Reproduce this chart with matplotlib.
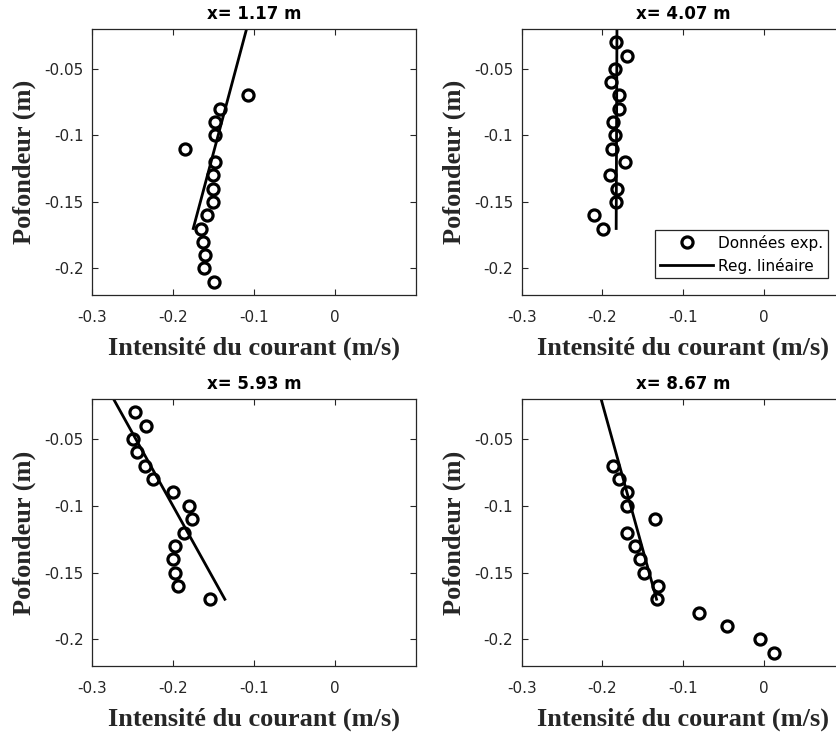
import matplotlib
matplotlib.use("Agg")
import matplotlib.pyplot as plt

# depths (m) of each profile
depth_a = [-0.07, -0.08, -0.09, -0.10, -0.11, -0.12, -0.13, -0.14, -0.15, -0.16, -0.17, -0.18, -0.19, -0.20, -0.21]
depth_b = [-0.03, -0.04, -0.05, -0.06, -0.07, -0.08, -0.09, -0.10, -0.11, -0.12, -0.13, -0.14, -0.15, -0.16, -0.17]

# measured current intensity (m/s)
vel_117 = [-0.107, -0.142, -0.148, -0.148, -0.185, -0.148, -0.150, -0.151, -0.151, -0.158, -0.165, -0.163, -0.160, -0.162, -0.149]
vel_407 = [-0.183, -0.170, -0.184, -0.189, -0.179, -0.179, -0.187, -0.184, -0.188, -0.172, -0.191, -0.182, -0.183, -0.211, -0.199]
vel_593 = [-0.247, -0.233, -0.249, -0.245, -0.234, -0.225, -0.200, -0.180, -0.177, -0.187, -0.197, -0.200, -0.197, -0.194, -0.154]
vel_867 = [-0.187, -0.179, -0.170, -0.170, -0.135, -0.170, -0.160, -0.154, -0.149, -0.131, -0.132, -0.081, -0.046, -0.005, 0.013]

# linear regression end points
reg_depth = [-0.17, -0.015]
reg_117 = [-0.175, -0.107]
reg_407 = [-0.183, -0.182]
reg_593 = [-0.136, -0.278]
reg_867 = [-0.133, -0.204]

titles = ["x= 1.17 m", "x= 4.07 m", "x= 5.93 m", "x= 8.67 m"]
xticks = [-0.3, -0.2, -0.1, 0]
xtick_labels = ["-0.3", "-0.2", "-0.1", "0"]
yticks = [-0.2, -0.15, -0.1, -0.05]
ytick_labels = ["-0.2", "-0.15", "-0.1", "-0.05"]

W, H = 837, 736
fig = plt.figure(figsize=(W / 100, H / 100), dpi=100)

dark = "#262626"

def px_axes(left, top, width, height):
    return fig.add_axes([left / W, 1 - (top + height) / H, width / W, height / H])

panels = [
    (px_axes(92, 29, 324, 266), depth_a, vel_117, reg_117),
    (px_axes(521.7, 29, 323, 266), depth_b, vel_407, reg_407),
    (px_axes(92, 399, 324, 267), depth_b, vel_593, reg_593),
    (px_axes(521.7, 399, 323, 267), depth_a, vel_867, reg_867),
]

for i, (ax, d, v, reg) in enumerate(panels):
    ax.plot(v, d, linestyle="none", marker="o", markersize=8, markerfacecolor="none",
            markeredgecolor="black", markeredgewidth=2.3, label="Données exp.")
    ax.plot(reg, reg_depth, color="black", linewidth=2.0, label="Reg. linéaire")
    ax.set_xlim(-0.3, 0.1)
    ax.set_ylim(-0.22, -0.02)
    ax.set_xticks(xticks)
    ax.set_xticklabels(xtick_labels)
    ax.set_yticks(yticks)
    ax.set_yticklabels(ytick_labels)
    ax.tick_params(direction="in", length=4, width=0.8, colors=dark, labelsize=11,
                   top=True, right=True)
    ax.tick_params(axis="x", pad=11)
    ax.tick_params(axis="y", pad=6)
    for s in ax.spines.values():
        s.set_color(dark)
        s.set_linewidth(0.9)
    ax.set_title(titles[i], fontsize=12, fontweight="bold", pad=7)
    ax.set_xlabel("Intensité du courant (m/s)", family="Liberation Serif", fontweight="bold",
                  fontsize=19, color=dark, labelpad=8)
    ax.set_ylabel("Pofondeur (m)", family="Liberation Serif", fontweight="bold",
                  fontsize=19, color=dark, labelpad=6)

leg = panels[1][0].legend(loc="lower right", bbox_to_anchor=(0.947, 0.063), borderaxespad=0,
                          fontsize=11, handlelength=3.5, fancybox=False, framealpha=1,
                          edgecolor=dark, labelspacing=0.45, borderpad=0.3, handletextpad=0.3)
leg.get_frame().set_linewidth(0.9)

fig.savefig("out.png", dpi=100)
